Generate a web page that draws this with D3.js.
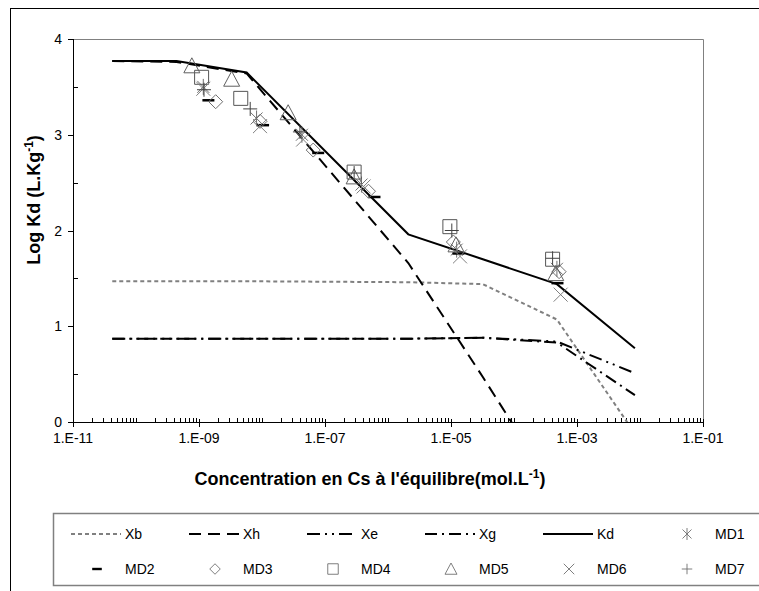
<!DOCTYPE html>
<html><head><meta charset="utf-8">
<script src="https://cdn.jsdelivr.net/npm/d3@7"></script>
<style>
html,body{margin:0;padding:0;background:#fff;}
svg{display:block;font-family:"Liberation Sans",Arial,sans-serif;}
</style></head>
<body>
<svg id="chart" width="759" height="591"></svg>
<script>
// ---- data ----
const modelConc = [4.2e-11, 4.4e-10, 5.7e-9, 2.1e-6, 3.2e-5, 4.8e-4, 8.3e-3];
const Xb = [1.47, 1.47, 1.47, 1.46, 1.44, 1.07, -0.12];
const Xh = [3.77, 3.76, 3.64, 1.66, 0.47, -0.75, null];
const Xe = [0.87, 0.87, 0.87, 0.87, 0.88, 0.84, 0.51];
const Xg = [0.87, 0.87, 0.87, 0.87, 0.88, 0.83, 0.28];
const Kd = [3.77, 3.77, 3.65, 1.96, 1.70, 1.44, 0.77];

const MD1x = [1.17e-9, 8.2e-9, 4.3e-8, 3.8e-7, 1.23e-5, 4.8e-4];
const MD1y = [3.50, 3.17, 3.00, 2.48, 1.80, 1.60];
const MD2x = [1.41e-9, 1.04e-8, 7.8e-8, 6.1e-7, 1.31e-5, 4.9e-4];
const MD2y = [3.36, 3.10, 2.81, 2.35, 1.76, 1.45];
const MD3x = [1.84e-9, 9.3e-9, 6.5e-8, 4.9e-7, 1.09e-5, 5.2e-4];
const MD3y = [3.345, 3.14, 2.84, 2.41, 1.88, 1.57];
const MD4x = [1.10e-9, 4.6e-9, 2.9e-7, 9.6e-6, 4.1e-4];
const MD4y = [3.60, 3.38, 2.61, 2.04, 1.70];
const MD5x = [7.7e-10, 3.3e-9, 2.6e-8, 2.9e-7, 1.2e-5, 4.6e-4];
const MD5y = [3.72, 3.58, 3.23, 2.56, 1.85, 1.55];
const MD6x = [1.17e-9, 9.3e-9, 4.5e-8, 4.1e-7, 1.39e-5, 5.5e-4];
const MD6y = [3.48, 3.09, 2.95, 2.46, 1.73, 1.33];
const MD7x = [1.2e-9, 6.5e-9, 4.0e-8, 2.9e-7, 1.03e-5, 4.1e-4];
const MD7y = [3.47, 3.27, 3.03, 2.60, 2.00, 1.71];

const xMajorTicks = [1e-11, 1e-9, 1e-7, 1e-5, 1e-3, 1e-1];
const xTickLabels = ["1.E-11", "1.E-09", "1.E-07", "1.E-05", "1.E-03", "1.E-01"];
const yMajorTicks = [0, 1, 2, 3, 4];
const yMinorTicks = [0.5, 1.5, 2.5, 3.5];

const lineNames = ["Xb", "Xh", "Xe", "Xg", "Kd"];
const markerNames = ["MD1", "MD2", "MD3", "MD4", "MD5", "MD6", "MD7"];

// ---- layout ----
const svg = d3.select("#chart");
const L = 73, R = 703, T = 39, B = 422;
const x = d3.scaleLog().domain([1e-11, 1e-1]).range([L, R]);
const y = d3.scaleLinear().domain([0, 4]).range([B, T]);

// outer frame
svg.append("rect").attr("x", 10.5).attr("y", 8.5).attr("width", 800).attr("height", 700)
  .attr("fill", "none").attr("stroke", "#000").attr("stroke-width", 1);

// plot area frame (top/right gray)
svg.append("path").attr("d", `M${L},${T+0.5}H${R+0.5}V${B}`)
  .attr("fill", "none").attr("stroke", "#808080").attr("stroke-width", 1);

svg.append("defs").append("clipPath").attr("id", "clip")
  .append("rect").attr("x", L).attr("y", T - 10).attr("width", R - L).attr("height", B - T + 10);

// x minor ticks
const minor = [];
for (let d = -11; d < -1; d++) {
  for (let k = 1; k <= 9; k++) {
    const v = k * Math.pow(10, d);
    if (k === 1 && (d % 2 !== 0)) continue;
    minor.push(v);
  }
}
const gx = svg.append("g");
gx.selectAll("line.mn").data(minor).join("line")
  .attr("x1", d => Math.round(x(d)) + 0.5).attr("x2", d => Math.round(x(d)) + 0.5)
  .attr("y1", B - 4).attr("y2", B).attr("stroke", "#000");
gx.selectAll("line.mj").data(xMajorTicks).join("line")
  .attr("x1", d => Math.round(x(d)) + 0.5).attr("x2", d => Math.round(x(d)) + 0.5)
  .attr("y1", B - 3).attr("y2", B + 5).attr("stroke", "#000");
gx.append("line").attr("x1", L).attr("x2", R + 1).attr("y1", B + 0.5).attr("y2", B + 0.5).attr("stroke", "#000");
gx.selectAll("text").data(xMajorTicks).join("text")
  .attr("x", d => x(d)).attr("y", B + 21).attr("text-anchor", "middle")
  .attr("font-size", 14).text((d, i) => xTickLabels[i]);

// y axis
const gy = svg.append("g");
gy.append("line").attr("x1", L + 0.5).attr("x2", L + 0.5).attr("y1", T).attr("y2", B + 1).attr("stroke", "#000");
gy.selectAll("line.mj").data(yMajorTicks).join("line")
  .attr("x1", L - 5).attr("x2", L).attr("y1", d => Math.round(y(d)) + 0.5).attr("y2", d => Math.round(y(d)) + 0.5).attr("stroke", "#000");
gy.selectAll("line.mn").data(yMinorTicks).join("line")
  .attr("x1", L).attr("x2", L + 5).attr("y1", d => Math.round(y(d)) + 0.5).attr("y2", d => Math.round(y(d)) + 0.5).attr("stroke", "#000");
gy.selectAll("text").data(yMajorTicks).join("text")
  .attr("x", L - 11).attr("y", d => y(d) + 5).attr("text-anchor", "end")
  .attr("font-size", 14).text(d => d);

// axis titles
const yt = svg.append("text").attr("transform", `translate(40,200) rotate(-90)`)
  .attr("text-anchor", "middle").attr("font-size", 18).attr("font-weight", "bold");
yt.append("tspan").text("Log Kd (L.Kg");
yt.append("tspan").attr("dy", -7).attr("font-size", 12).text("-1");
yt.append("tspan").attr("dy", 7).text(")");

const xt = svg.append("text").attr("x", 370).attr("y", 485)
  .attr("text-anchor", "middle").attr("font-size", 18).attr("font-weight", "bold");
xt.append("tspan").text("Concentration  en Cs à l'équilibre(mol.L");
xt.append("tspan").attr("dy", -7).attr("font-size", 12).text("-1");
xt.append("tspan").attr("dy", 7).text(")");

// ---- lines ----
const lineStyles = {
  Xb: {stroke: "#808080", dash: "4,3", w: 2},
  Xh: {stroke: "#000", dash: "12,7", w: 2},
  Xe: {stroke: "#000", dash: "13,5,2,5,2,5", w: 2},
  Xg: {stroke: "#000", dash: "12,5,2,5", w: 2},
  Kd: {stroke: "#000", dash: null, w: 2}
};
const lineData = {Xb, Xh, Xe, Xg, Kd};
const plot = svg.append("g").attr("clip-path", "url(#clip)");
const lineGen = d3.line().defined(d => d[1] !== null).x(d => x(d[0])).y(d => y(d[1]));
lineNames.forEach(n => {
  const s = lineStyles[n];
  plot.append("path").datum(modelConc.map((c, i) => [c, lineData[n][i]]))
    .attr("d", lineGen).attr("fill", "none").attr("stroke", s.stroke)
    .attr("stroke-width", s.w).attr("stroke-dasharray", s.dash);
});

// ---- markers ----
function markerPath(type) {
  switch (type) {
    case "MD1": return "M-6,-6L6,6M-6,6L6,-6M0,-8V8";
    case "MD2": return "M-6,0H6";
    case "MD3": return "M0,-7L7,0L0,7L-7,0Z";
    case "MD4": return "M-7,-7H7V7H-7Z";
    case "MD5": return "M0,-8L8,7H-8Z";
    case "MD6": return "M-7,-7L7,7M-7,7L7,-7";
    case "MD7": return "M-7,0H7M0,-7V7";
  }
}
const markerStyle = {
  MD1: {stroke: "#707070", w: 1},
  MD2: {stroke: "#000", w: 2.5},
  MD3: {stroke: "#707070", w: 1},
  MD4: {stroke: "#555", w: 1},
  MD5: {stroke: "#606060", w: 1},
  MD6: {stroke: "#808080", w: 1},
  MD7: {stroke: "#404040", w: 1}
};
const markerData = {
  MD1: [MD1x, MD1y], MD2: [MD2x, MD2y], MD3: [MD3x, MD3y], MD4: [MD4x, MD4y],
  MD5: [MD5x, MD5y], MD6: [MD6x, MD6y], MD7: [MD7x, MD7y]
};
markerNames.forEach(n => {
  const [xs, ys] = markerData[n];
  svg.append("g").selectAll("path").data(xs.map((c, i) => [c, ys[i]])).join("path")
    .attr("transform", d => `translate(${x(d[0])},${y(d[1])})`)
    .attr("d", markerPath(n)).attr("fill", "none")
    .attr("stroke", markerStyle[n].stroke).attr("stroke-width", markerStyle[n].w);
});

// ---- legend ----
const lg = svg.append("g");
lg.append("rect").attr("x", 53.5).attr("y", 513.5).attr("width", 760).attr("height", 72)
  .attr("fill", "#fff").attr("stroke", "#808080").attr("stroke-width", 1.5);
const colW = 118;
const row1 = 534, row2 = 569;
lineNames.forEach((n, i) => {
  const tx = 125 + i * colW;
  const s = lineStyles[n];
  lg.append("line").attr("x1", tx - 54).attr("x2", tx - 4).attr("y1", row1).attr("y2", row1)
    .attr("stroke", s.stroke).attr("stroke-width", s.w).attr("stroke-dasharray", s.dash);
  lg.append("text").attr("x", tx).attr("y", row1 + 5).attr("font-size", 14).text(n);
});
markerNames.forEach((n, i) => {
  let col, row;
  if (i === 0) { col = 5; row = row1; } else { col = i - 1; row = row2; }
  const tx = 125 + col * colW;
  const sc = n === "MD2" ? 0.8 : 0.75;
  lg.append("path").attr("transform", `translate(${tx - 28},${row}) scale(${sc})`)
    .attr("d", markerPath(n)).attr("fill", "none")
    .attr("stroke", n === "MD2" ? "#000" : "#707070").attr("stroke-width", n === "MD2" ? 3 : 1.2);
  lg.append("text").attr("x", tx).attr("y", row + 5).attr("font-size", 14).text(n);
});
</script>
</body></html>
